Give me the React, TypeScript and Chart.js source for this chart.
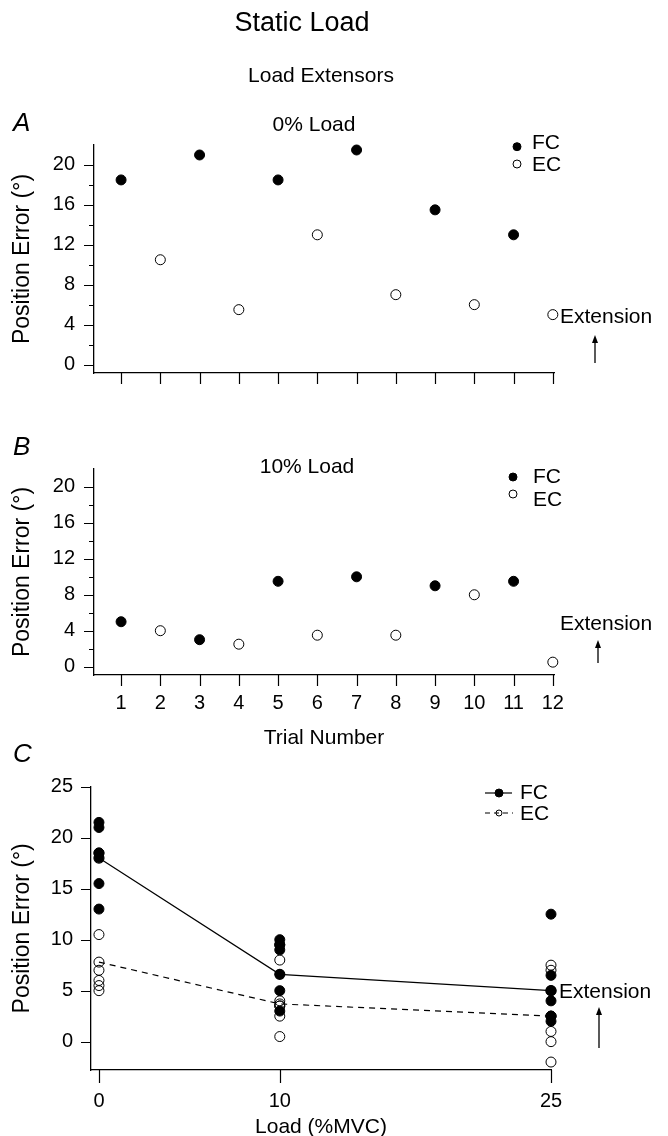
import React, { useEffect, useRef } from 'react';
import { Chart, registerables } from 'chart.js';

Chart.register(...registerables);

// ---------- data ----------
const trialsFC = [1, 3, 5, 7, 9, 11];
const trialsEC = [2, 4, 6, 8, 10, 12];
const trialTicks = [1, 2, 3, 4, 5, 6, 7, 8, 9, 10, 11, 12];

const fcLoad0 = [18.5, 21, 18.5, 21.5, 15.5, 13];
const ecLoad0 = [10.5, 5.5, 13, 7, 6, 5];
const fcLoad10 = [5, 3, 9.5, 10, 9, 9.5];
const ecLoad10 = [4, 2.5, 3.5, 3.5, 8, 0.5];

const loadLevels = [0, 10, 25];
const fcPooled0 = [21.5, 21, 18.5, 18.5, 15.5, 13];
const fcPooled10 = [10, 9.5, 9.5, 9, 5, 3];
const fcPooled25 = [12.5, 6.5, 5, 4, 2.5, 2];
const ecPooled0 = [10.5, 7, 6, 5.5, 5];
const ecPooled10 = [8, 4, 3.5, 3.5, 2.5, 0.5];
const ecPooled25 = [7.5, 7, 2.5, 1, 0, -2];
const fcMean = [18, 6.6, 5];
const ecMean = [7.8, 3.7, 2.5];

const yTicksAB = [0, 4, 8, 12, 16, 20];
const yMinorAB = [2, 6, 10, 14, 18];
const yTicksC = [0, 5, 10, 15, 20, 25];
const xTicksC = [0, 10, 25];

// ---------- helpers ----------
const FAMILY = '"Liberation Sans", Arial, Helvetica, sans-serif';
Chart.defaults.font.family = FAMILY;
Chart.defaults.color = '#000';

function text(ctx: CanvasRenderingContext2D, s: string, x: number, y: number, size: number, align: CanvasTextAlign = 'left', italic = false) {
  ctx.save();
  ctx.font = `${italic ? 'italic ' : ''}${size}px ${FAMILY}`;
  ctx.fillStyle = '#000';
  ctx.textAlign = align;
  ctx.textBaseline = 'middle';
  ctx.fillText(s, x, y);
  ctx.restore();
}

function dot(ctx: CanvasRenderingContext2D, x: number, y: number, r: number, filled: boolean) {
  ctx.save();
  ctx.beginPath();
  ctx.arc(x, y, r, 0, Math.PI * 2);
  ctx.lineWidth = 1;
  ctx.strokeStyle = '#000';
  if (filled) {
    ctx.fillStyle = '#000';
    ctx.fill();
  }
  ctx.stroke();
  ctx.restore();
}

function arrow(ctx: CanvasRenderingContext2D, x: number, yBottom: number, yTip: number) {
  ctx.save();
  ctx.strokeStyle = '#000';
  ctx.fillStyle = '#000';
  ctx.lineWidth = 1.3;
  ctx.beginPath();
  ctx.moveTo(x, yBottom);
  ctx.lineTo(x, yTip + 6);
  ctx.stroke();
  ctx.beginPath();
  ctx.moveTo(x, yTip);
  ctx.lineTo(x - 3, yTip + 8);
  ctx.lineTo(x + 3, yTip + 8);
  ctx.closePath();
  ctx.fill();
  ctx.restore();
}

function drawTicks(chart: any, yMajor: number[], yMinor: number[], xTicks: number[], xLen: number) {
  const { ctx, chartArea } = chart;
  const x = chart.scales.x;
  const y = chart.scales.y;
  ctx.save();
  ctx.strokeStyle = '#000';
  ctx.lineWidth = 1.2;
  ctx.beginPath();
  for (const v of yMajor) {
    const py = Math.round(y.getPixelForValue(v)) + 0.5;
    ctx.moveTo(chartArea.left - 10, py);
    ctx.lineTo(chartArea.left, py);
  }
  for (const v of yMinor) {
    const py = Math.round(y.getPixelForValue(v)) + 0.5;
    ctx.moveTo(chartArea.left - 5, py);
    ctx.lineTo(chartArea.left, py);
  }
  for (const v of xTicks) {
    const px = Math.round(x.getPixelForValue(v)) + 0.5;
    ctx.moveTo(px, chartArea.bottom);
    ctx.lineTo(px, chartArea.bottom + xLen);
  }
  ctx.stroke();
  ctx.restore();
}

const pts = (xs: number[], ys: number[]) => xs.map((x, i) => ({ x, y: ys[i] }));
const col = (x: number, ys: number[]) => ys.map((y) => ({ x, y }));

const filledStyle = { pointRadius: 5, pointHoverRadius: 5, backgroundColor: '#000', borderColor: '#000', borderWidth: 1, showLine: false, clip: false as const };
const openStyle = { pointRadius: 5, pointHoverRadius: 5, backgroundColor: 'rgba(0,0,0,0)', borderColor: '#000', borderWidth: 1, showLine: false, clip: false as const };

const border = { display: true, color: '#000', width: 1.3 };
const noGrid = { display: false, drawTicks: false };
const yTitle = { display: true, text: 'Position Error (°)', font: { size: 23 }, color: '#000', padding: { top: 9, bottom: 0 } };

function trialPanelConfig(fc: number[], ec: number[], opts: { top: number; height: number; letter: string; title: string; showLabels: boolean; legendY: [number, number, number, number]; legendX: number; textX: number; extY: number; arrowX: number; arrowB: number; arrowT: number; xHeight: number }) {
  const off = opts.top;
  const overlay = {
    id: 'overlay' + opts.letter,
    afterDraw(chart: any) {
      const ctx = chart.ctx;
      drawTicks(chart, yTicksAB, yMinorAB, trialTicks, 11);
      if (opts.letter === 'A') {
        text(ctx, 'Static Load', 302, 24 - off, 27, 'center');
        text(ctx, 'Load Extensors', 321, 76 - off, 21, 'center');
      }
      text(ctx, opts.letter, 13, (opts.letter === 'A' ? 124 : 448) - off, 26, 'left', true);
      text(ctx, opts.title, opts.letter === 'A' ? 314 : 307, (opts.letter === 'A' ? 125 : 467) - off, 21, 'center');
      const [fm, ft, em, et] = opts.legendY;
      dot(ctx, opts.legendX, fm - off, 4, true);
      text(ctx, 'FC', opts.textX, ft - off, 21);
      dot(ctx, opts.legendX, em - off, 4, false);
      text(ctx, 'EC', opts.textX, et - off, 21);
      text(ctx, 'Extension', 560, opts.extY - off, 21);
      arrow(ctx, opts.arrowX, opts.arrowB - off, opts.arrowT - off);
    },
  };
  return {
    type: 'scatter' as const,
    data: {
      datasets: [
        { label: 'FC', data: pts(trialsFC, fc), ...filledStyle },
        { label: 'EC', data: pts(trialsEC, ec), ...openStyle },
      ],
    },
    options: {
      animation: false as const,
      responsive: false,
      events: [],
      layout: { padding: { left: 0, right: 114, top: (opts.letter === 'A' ? 145 : 469) - off, bottom: 0 }, autoPadding: false },
      plugins: { legend: { display: false }, tooltip: { enabled: false } },
      scales: {
        x: {
          type: 'linear' as const,
          min: 0.31,
          max: 12.03,
          afterBuildTicks: (s: any) => { s.ticks = trialTicks.map((v) => ({ value: v })); },
          afterFit: (s: any) => { s.height = opts.xHeight; },
          grid: noGrid,
          border,
          ticks: { display: opts.showLabels, padding: 16.5, font: { size: 20 }, color: '#000', maxRotation: 0, autoSkip: false },
          title: { display: opts.showLabels, text: 'Trial Number', font: { size: 21 }, color: '#000', padding: { top: 0, bottom: 4.4 } },
        },
        y: {
          type: 'linear' as const,
          min: opts.letter === 'A' ? -0.85 : -0.93,
          max: 22,
          afterBuildTicks: (s: any) => { s.ticks = yTicksAB.map((v) => ({ value: v })); },
          afterFit: (s: any) => { s.width = 94; },
          grid: noGrid,
          border,
          ticks: { padding: 19, font: { size: 20 }, color: '#000' },
          title: yTitle,
        },
      },
    },
    plugins: [overlay],
  };
}

function pooledConfig() {
  const off = 740;
  const overlay = {
    id: 'overlayC',
    afterDraw(chart: any) {
      const ctx = chart.ctx;
      drawTicks(chart, yTicksC, [], xTicksC, 13);
      text(ctx, 'C', 13, 755 - off, 26, 'left', true);
      // legend
      ctx.save();
      ctx.strokeStyle = '#000';
      ctx.lineWidth = 1.2;
      ctx.beginPath();
      ctx.moveTo(485, 793 - off);
      ctx.lineTo(512, 793 - off);
      ctx.stroke();
      ctx.setLineDash([5, 4]);
      ctx.beginPath();
      ctx.moveTo(485, 813 - off);
      ctx.lineTo(513, 813 - off);
      ctx.stroke();
      ctx.restore();
      dot(ctx, 499, 793 - off, 4, true);
      dot(ctx, 499, 813 - off, 3, false);
      text(ctx, 'FC', 520, 793 - off, 21);
      text(ctx, 'EC', 520, 814 - off, 21);
      text(ctx, 'Extension', 559, 992 - off, 21);
      arrow(ctx, 599, 1048 - off, 1007 - off);
    },
  };
  const fcAll = [...col(loadLevels[0], fcPooled0), ...col(loadLevels[1], fcPooled10), ...col(loadLevels[2], fcPooled25)];
  const ecAll = [...col(loadLevels[0], ecPooled0), ...col(loadLevels[1], ecPooled10), ...col(loadLevels[2], ecPooled25)];
  return {
    type: 'scatter' as const,
    data: {
      datasets: [
        { label: 'EC mean', data: pts(loadLevels, ecMean), ...openStyle, showLine: true, borderWidth: 1.2, borderDash: [6, 5], pointBorderWidth: 1 },
        { label: 'FC mean', data: pts(loadLevels, fcMean), ...filledStyle, showLine: true, borderWidth: 1.2 },
        { label: 'EC', data: ecAll, ...openStyle },
        { label: 'FC', data: fcAll, ...filledStyle },
      ],
    },
    options: {
      animation: false as const,
      responsive: false,
      events: [],
      layout: { padding: { left: 0, right: 117, top: 46.7, bottom: 0 }, autoPadding: false },
      plugins: { legend: { display: false }, tooltip: { enabled: false } },
      scales: {
        x: {
          type: 'linear' as const,
          min: -0.44,
          max: 25,
          afterBuildTicks: (s: any) => { s.ticks = xTicksC.map((v) => ({ value: v })); },
          afterFit: (s: any) => { s.height = 66; },
          grid: noGrid,
          border,
          ticks: { padding: 19.7, font: { size: 20 }, color: '#000', maxRotation: 0, autoSkip: false },
          title: { display: true, text: 'Load (%MVC)', font: { size: 21, lineHeight: 0.8 }, color: '#000', padding: { top: 0, bottom: 0 } },
        },
        y: {
          type: 'linear' as const,
          min: -2.78,
          max: 25,
          afterBuildTicks: (s: any) => { s.ticks = yTicksC.map((v) => ({ value: v })); },
          afterFit: (s: any) => { s.width = 91; },
          grid: noGrid,
          border,
          ticks: { padding: 18, font: { size: 20 }, color: '#000' },
          title: yTitle,
        },
      },
    },
    plugins: [overlay],
  };
}

function Panel({ top, height, make }: { top: number; height: number; make: () => any }) {
  const ref = useRef<HTMLCanvasElement>(null);
  useEffect(() => {
    const chart = new Chart(ref.current as HTMLCanvasElement, make());
    return () => chart.destroy();
  }, []);
  return (
    <canvas
      ref={ref}
      width={668}
      height={height}
      style={{ position: 'absolute', left: 0, top, width: 668, height, display: 'block' }}
    />
  );
}

export default function App() {
  return (
    <div style={{ position: 'absolute', left: 0, top: 0, width: 668, height: 1136, background: '#fff', overflow: 'hidden' }}>
      <Panel
        top={0}
        height={410}
        make={() =>
          trialPanelConfig(fcLoad0, ecLoad0, {
            top: 0, height: 410, letter: 'A', title: '0% Load', showLabels: false,
            legendY: [146.7, 143, 164, 165], legendX: 517, textX: 532,
            extY: 317, arrowX: 595, arrowB: 363, arrowT: 335, xHeight: 37,
          })
        }
      />
      <Panel
        top={410}
        height={345}
        make={() =>
          trialPanelConfig(fcLoad10, ecLoad10, {
            top: 410, height: 345, letter: 'B', title: '10% Load', showLabels: true,
            legendY: [477, 477, 494, 500], legendX: 513, textX: 533,
            extY: 624, arrowX: 598, arrowB: 663, arrowT: 640, xHeight: 80,
          })
        }
      />
      <Panel top={740} height={396} make={pooledConfig} />
    </div>
  );
}
